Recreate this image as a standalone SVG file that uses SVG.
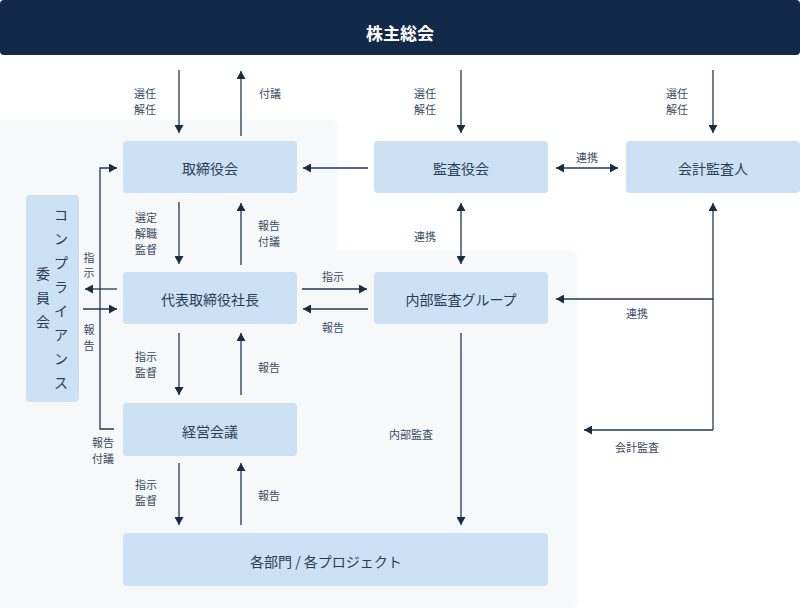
<svg xmlns="http://www.w3.org/2000/svg" width="800" height="610" viewBox="0 0 800 610">
<style>
.bg{fill:#f6f8fa}
.node{fill:#cde1f4}
.nt{font-family:"Noto Sans CJK JP","Noto Sans",sans-serif;font-size:14px;fill:#2c3d54;text-anchor:middle;dominant-baseline:central}
.lb{font-family:"Noto Sans CJK JP","Noto Sans",sans-serif;font-size:11px;fill:#3b4a5e;text-anchor:middle;dominant-baseline:central}
.c{fill:none;stroke:#25374f;stroke-width:1.3}
.a{marker-end:url(#ah)}
.b{marker-start:url(#ah);marker-end:url(#ah)}
</style>
<defs>
<marker id="ah" viewBox="0 0 9 9" refX="8" refY="4.5" markerWidth="9" markerHeight="9" markerUnits="userSpaceOnUse" orient="auto-start-reverse">
<path d="M0,0 L8,4.5 L0,9 z" fill="#1a2b44"/>
</marker>
</defs>
<g id="panel">
<rect class="bg" x="-6" y="120" width="343" height="131" rx="6"/>
<rect class="bg" x="-6" y="251" width="583" height="357" rx="6"/>
</g>
<g id="shareholders">
<rect x="0" y="0" width="800" height="55" rx="4" fill="#13294a"/>
<text x="400" y="32" font-family="'Noto Sans CJK JP','Noto Sans',sans-serif" font-size="17" font-weight="bold" fill="#ffffff" text-anchor="middle" dominant-baseline="central">株主総会</text>
</g>
<g id="board">
<rect class="node" x="123" y="141" width="174" height="52" rx="4"/>
<text class="nt" x="210" y="168">取締役会</text>
</g>
<g id="auditboard">
<rect class="node" x="374" y="141" width="174" height="52" rx="4"/>
<text class="nt" x="461" y="168">監査役会</text>
</g>
<g id="accountant">
<rect class="node" x="626" y="141" width="174" height="52" rx="4"/>
<text class="nt" x="713" y="168">会計監査人</text>
</g>
<g id="ceo">
<rect class="node" x="123" y="272" width="174" height="52" rx="4"/>
<text class="nt" x="210" y="299">代表取締役社長</text>
</g>
<g id="internalaudit">
<rect class="node" x="374" y="272" width="174" height="52" rx="4"/>
<text class="nt" x="461" y="299">内部監査グループ</text>
</g>
<g id="management">
<rect class="node" x="123" y="403" width="174" height="53" rx="4"/>
<text class="nt" x="210" y="431">経営会議</text>
</g>
<g id="departments">
<rect class="node" x="123" y="533" width="425" height="53" rx="4"/>
<text class="nt" x="326" y="561">各部門 / 各プロジェクト</text>
</g>
<g id="compliance">
<rect class="node" x="26" y="195" width="53" height="207" rx="4"/>
<text class="nt" font-size="13">
<tspan x="61" y="214">コ</tspan><tspan x="61" y="238">ン</tspan><tspan x="61" y="262">プ</tspan><tspan x="61" y="286">ラ</tspan><tspan x="61" y="310">イ</tspan><tspan x="61" y="334">ア</tspan><tspan x="61" y="358">ン</tspan><tspan x="61" y="382">ス</tspan>
</text>
<text class="nt" font-size="13">
<tspan x="43" y="273">委</tspan><tspan x="43" y="297">員</tspan><tspan x="43" y="321">会</tspan>
</text>
</g>
<g id="connectors">
<path class="c a" d="M179,70 V133"/>
<path class="c a" d="M241,136 V71"/>
<path class="c a" d="M461,70 V133"/>
<path class="c a" d="M713,70 V133"/>
<path class="c a" d="M368,168 H303"/>
<path class="c b" d="M556,168 H618"/>
<path class="c b" d="M461,203 V264"/>
<path class="c a" d="M179,202 V264"/>
<path class="c a" d="M241,265 V203"/>
<path class="c a" d="M302,289 H367"/>
<path class="c a" d="M368,309 H303"/>
<path class="c a" d="M117,289 H85"/>
<path class="c a" d="M83,309 H117"/>
<path class="c a" d="M114,429 H100 V168 H117"/>
<path class="c a" d="M179,333 V395"/>
<path class="c a" d="M241,395 V333"/>
<path class="c a" d="M179,463 V525"/>
<path class="c a" d="M241,525 V463"/>
<path class="c a" d="M461,333 V525"/>
<path class="c a" d="M713,430 V203"/>
<path class="c a" d="M713,430 H584"/>
<path class="c a" d="M713,299 H556"/>
</g>
<g id="labels">
<text class="lb"><tspan x="145" y="93">選任</tspan><tspan x="145" y="109">解任</tspan></text>
<text class="lb" x="270" y="93">付議</text>
<text class="lb"><tspan x="425" y="93">選任</tspan><tspan x="425" y="109">解任</tspan></text>
<text class="lb"><tspan x="677" y="93">選任</tspan><tspan x="677" y="109">解任</tspan></text>
<text class="lb" x="587" y="157">連携</text>
<text class="lb" x="425" y="236">連携</text>
<text class="lb"><tspan x="146" y="217">選定</tspan><tspan x="146" y="233">解職</tspan><tspan x="146" y="249">監督</tspan></text>
<text class="lb"><tspan x="269" y="225">報告</tspan><tspan x="269" y="241">付議</tspan></text>
<text class="lb"><tspan x="89" y="257">指</tspan><tspan x="89" y="272">示</tspan></text>
<text class="lb"><tspan x="89" y="329">報</tspan><tspan x="89" y="345">告</tspan></text>
<text class="lb" x="333" y="276">指示</text>
<text class="lb" x="333" y="327">報告</text>
<text class="lb" x="637" y="313">連携</text>
<text class="lb"><tspan x="146" y="356">指示</tspan><tspan x="146" y="372">監督</tspan></text>
<text class="lb" x="269" y="367">報告</text>
<text class="lb"><tspan x="103" y="442">報告</tspan><tspan x="103" y="458">付議</tspan></text>
<text class="lb" x="411" y="434">内部監査</text>
<text class="lb" x="637" y="447">会計監査</text>
<text class="lb"><tspan x="146" y="484">指示</tspan><tspan x="146" y="500">監督</tspan></text>
<text class="lb" x="269" y="495">報告</text>
</g>
</svg>
